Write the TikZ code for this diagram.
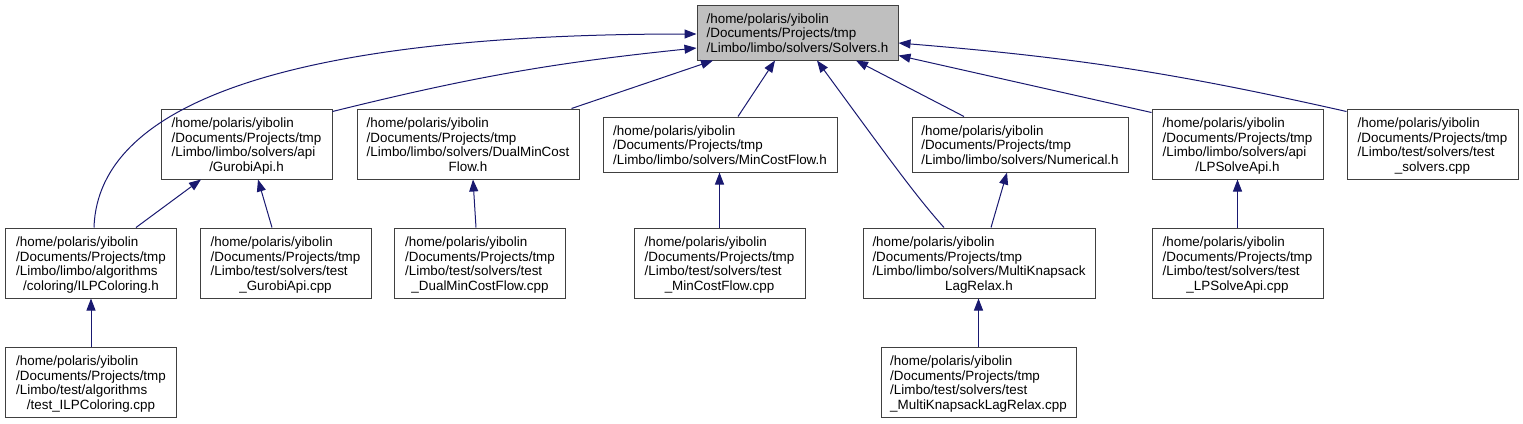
\documentclass[tikz,border=0pt]{standalone}
\usepackage{fontspec}
\setmainfont{Liberation Sans}
\usetikzlibrary{arrows.meta}

\definecolor{edgeblue}{RGB}{25,25,112}
\newcommand{\flbl}[2]{\raisebox{-2.5pt}[\height][\depth]{\begin{tabular}{@{}l@{}}#1\\\multicolumn{1}{@{}c@{}}{#2}\end{tabular}}}

\begin{document}
\begin{tikzpicture}[
    x=1pt, y=-1pt,
    file/.style={rectangle, draw=black!75, line width=1pt, fill=white, inner sep=0pt,
                 minimum width=171pt, minimum height=70pt, font=\fontsize{13.4}{14.7}\selectfont},
    short/.style={file, minimum height=55pt},
    main/.style={short, fill=black!25},
    edge/.style={edgeblue, line width=1pt, -{Triangle[length=12pt,width=9pt]}}
]
    \useasboundingbox (0,0) rectangle (1523,423);

    % --- Top: the included header ---
    \node[main, minimum width=201pt] (solvers) at (797.5, 32.5)
        {\flbl{/home/polaris/yibolin\\/Documents/Projects/tmp}{/Limbo/limbo/solvers/Solvers.h}};

    % --- Row 2: direct includers ---
    \node[file] (gurobi) at (246.5, 144)
        {\flbl{/home/polaris/yibolin\\/Documents/Projects/tmp\\/Limbo/limbo/solvers/api}{/GurobiApi.h}};
    \node[file, minimum width=222pt] (dualmcf) at (468, 144)
        {\flbl{/home/polaris/yibolin\\/Documents/Projects/tmp\\/Limbo/limbo/solvers/DualMinCost}{Flow.h}};
    \node[short, minimum width=234pt] (mcf) at (720, 144.5)
        {\flbl{/home/polaris/yibolin\\/Documents/Projects/tmp}{/Limbo/limbo/solvers/MinCostFlow.h}};
    \node[short, minimum width=216pt] (numerical) at (1020, 144.5)
        {\flbl{/home/polaris/yibolin\\/Documents/Projects/tmp}{/Limbo/limbo/solvers/Numerical.h}};
    \node[file] (lpsolve) at (1237.5, 144)
        {\flbl{/home/polaris/yibolin\\/Documents/Projects/tmp\\/Limbo/limbo/solvers/api}{/LPSolveApi.h}};
    \node[file] (testsolvers) at (1432.5, 144)
        {\flbl{/home/polaris/yibolin\\/Documents/Projects/tmp\\/Limbo/test/solvers/test}{\_solvers.cpp}};

    % --- Row 3 ---
    \node[file] (ilpcol) at (91, 263)
        {\flbl{/home/polaris/yibolin\\/Documents/Projects/tmp\\/Limbo/limbo/algorithms}{/coloring/ILPColoring.h}};
    \node[file] (testgurobi) at (285.5, 263)
        {\flbl{/home/polaris/yibolin\\/Documents/Projects/tmp\\/Limbo/test/solvers/test}{\_GurobiApi.cpp}};
    \node[file] (testdual) at (480, 263)
        {\flbl{/home/polaris/yibolin\\/Documents/Projects/tmp\\/Limbo/test/solvers/test}{\_DualMinCostFlow.cpp}};
    \node[file] (testmcf) at (719.5, 263)
        {\flbl{/home/polaris/yibolin\\/Documents/Projects/tmp\\/Limbo/test/solvers/test}{\_MinCostFlow.cpp}};
    \node[file, minimum width=232pt] (mk) at (979, 263)
        {\flbl{/home/polaris/yibolin\\/Documents/Projects/tmp\\/Limbo/limbo/solvers/MultiKnapsack}{LagRelax.h}};
    \node[file] (testlp) at (1237.5, 263)
        {\flbl{/home/polaris/yibolin\\/Documents/Projects/tmp\\/Limbo/test/solvers/test}{\_LPSolveApi.cpp}};

    % --- Row 4 ---
    \node[file] (testilp) at (91, 382)
        {\flbl{/home/polaris/yibolin\\/Documents/Projects/tmp\\/Limbo/test/algorithms}{/test\_ILPColoring.cpp}};
    \node[file, minimum width=195pt] (testmk) at (978.5, 382)
        {\flbl{/home/polaris/yibolin\\/Documents/Projects/tmp\\/Limbo/test/solvers/test}{\_MultiKnapsackLagRelax.cpp}};

    % --- Edges into Solvers.h ---
    \draw[edge] ([xshift=3pt]ilpcol.north) .. controls (98,100) and (300,34) .. ([yshift=-1.5pt]solvers.west);
    \draw[edge] ([yshift=-3pt]gurobi.north east) to[bend left=4] ([yshift=-15.5pt]solvers.west);
    \draw[edge] ([xshift=-8pt]dualmcf.north east) -- ([xshift=-84.5pt]solvers.south);
    \draw[edge] ([xshift=18pt]mcf.north) -- ([xshift=-22.5pt]solvers.south);
    \draw[edge] ([xshift=-35pt]mk.north) .. controls (915,195) and (890,160) .. ([xshift=19.5pt]solvers.south);
    \draw[edge] ([xshift=-56pt]numerical.north) -- ([xshift=58.5pt]solvers.south);
    \draw[edge] ([yshift=-4pt]lpsolve.north west) -- ([yshift=-23pt]solvers.east);
    \draw[edge] ([yshift=-3pt]testsolvers.north west) to[bend right=4] ([yshift=-10.5pt]solvers.east);

    % --- Edges between lower rows ---
    \draw[edge] ([xshift=45pt]ilpcol.north) -- ([xshift=-45.5pt]gurobi.south);
    \draw[edge] ([xshift=-13.5pt]testgurobi.north) -- ([xshift=11.5pt]gurobi.south);
    \draw[edge] ([xshift=-4pt]testdual.north) -- ([xshift=5pt]dualmcf.south);
    \draw[edge] (testmcf.north) -- (testmcf.north |- mcf.south);
    \draw[edge] ([xshift=12pt]mk.north) -- ([xshift=-13pt]numerical.south);
    \draw[edge] (testlp.north) -- (lpsolve.south);
    \draw[edge] (testilp.north) -- (ilpcol.south);
    \draw[edge] (testmk.north) -- (testmk.north |- mk.south);

\end{tikzpicture}
\end{document}
